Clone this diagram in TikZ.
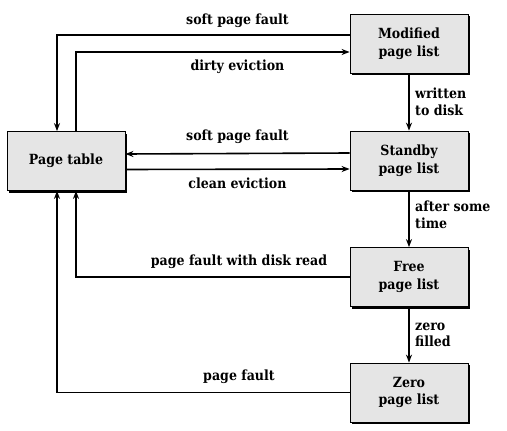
\documentclass[tikz,border=0pt]{standalone}
\usepackage{fontspec}
\setmainfont{DejaVu Serif Condensed}
\usepackage{tikz}
\usetikzlibrary{arrows.meta,positioning,shadows,calc}

\begin{document}
\begin{tikzpicture}[
    x=1pt, y=-1pt,
    >={Stealth[length=8pt,width=6pt]},
    listbox/.style={
        draw, line width=0.8pt, fill=black!10,
        minimum width=118pt, minimum height=59pt, align=center,
        font=\fontsize{14}{17.5}\selectfont\bfseries,
        drop shadow={shadow xshift=2.2pt, shadow yshift=-2.2pt, fill=black, opacity=1}},
    flow/.style={line width=1.6pt},
    lbl/.style={font=\fontsize{14}{16.5}\selectfont\bfseries, inner sep=0, align=left}]
\useasboundingbox (0,0) rectangle (507,431);

\node[listbox] (pagetable) at (66,161)   {Page table};
\node[listbox] (modified)  at (409,43.5) {Modified\\page list};
\node[listbox] (standby)   at (409,160.5) {Standby\\page list};
\node[listbox] (free)      at (409,277)  {Free\\page list};
\node[listbox] (zero)      at (409,392.5) {Zero\\page list};

\draw[flow,->] ([yshift=8.5pt]modified.west) -| ([xshift=-9pt]pagetable.north);
\draw[flow,->] ([xshift=10pt]pagetable.north) |- ([yshift=-8.5pt]modified.west);
\draw[flow,->] ([yshift=7.5pt]standby.west) -- ([yshift=7pt]pagetable.east);
\draw[flow,->] ([yshift=-8.5pt]pagetable.east) -- ([yshift=-8.5pt]standby.west);
\draw[flow,->] (modified) -- (standby);
\draw[flow,->] (standby) -- (free);
\draw[flow,->] (free) -- (zero);
\draw[flow,->] (free.west) -| ([xshift=10pt]pagetable.south);
\draw[flow,->] (zero.west) -| ([xshift=-9pt]pagetable.south);

\node[lbl] (softtop)   at (237.5,21)  {soft page fault};
\node[lbl] (dirty)     at (237.5,67)  {dirty eviction};
\node[lbl] (softmid)   at (237.5,137) {soft page fault};
\node[lbl] (clean)     at (237.5,183) {clean eviction};
\node[lbl] (diskread)  at (239,262)   {page fault with disk read};
\node[lbl] (fault)     at (239,377)   {page fault};
\node[lbl, anchor=west] (written) at (415,102) {written\\to disk};
\node[lbl, anchor=west] (aftertime) at (415,215) {after some\\time};
\node[lbl, anchor=west] (zerofill) at (415,335) {zero\\filled};

\end{tikzpicture}
\end{document}
